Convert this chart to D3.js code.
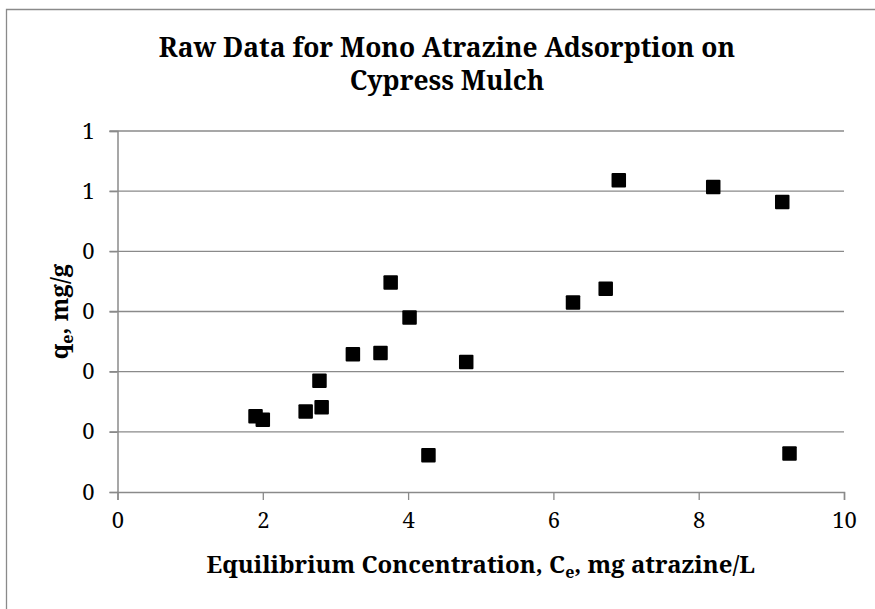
<!DOCTYPE html>
<html>
<head>
<meta charset="utf-8">
<script src="https://d3js.org/d3.v7.min.js"></script>
<style>
  body { margin: 0; background: #fff; }
  text { font-family: "Noto Serif", "Liberation Serif", serif; fill: #000; }
</style>
</head>
<body>
<script>
// concentrations (mg atrazine/L) and uptake (mg/g)
const ce = [1.90, 2.00, 2.59, 2.78, 2.81, 3.24, 3.62, 3.76, 4.02, 4.28, 4.80, 6.27, 6.72, 6.90, 8.20, 9.15, 9.25];
const qe = [0.126, 0.120, 0.134, 0.185, 0.141, 0.229, 0.231, 0.348, 0.290, 0.061, 0.216, 0.315, 0.338, 0.518, 0.507, 0.482, 0.064];

const xTicks = [0, 2, 4, 6, 8, 10];
const yTicks = [0, 0.1, 0.2, 0.3, 0.4, 0.5, 0.6];
const yTickLabels = ["0", "0", "0", "0", "0", "1", "1"]; // Excel "0" number format

const titleLines = ["Raw Data for Mono Atrazine Adsorption on", "Cypress Mulch"];

const width = 875, height = 609;
const plot = { left: 117.5, right: 844, top: 131, bottom: 492 };
const grey = "#8a8a8a";

const svg = d3.select("body").append("svg")
    .attr("width", width)
    .attr("height", height);

// chart area frame (only top/left visible in the crop)
svg.append("path")
    .attr("d", "M6.5,612 V9.5 H880")
    .attr("fill", "none")
    .attr("stroke", grey)
    .attr("stroke-width", 1.3);

const x = d3.scaleLinear().domain([0, 10]).range([plot.left, plot.right]);
const y = d3.scaleLinear().domain([0, 0.6]).range([plot.bottom, plot.top]);

// horizontal gridlines
svg.append("g")
    .selectAll("line")
    .data(yTicks.slice(1))
    .join("line")
    .attr("x1", plot.left - 8)
    .attr("x2", plot.right)
    .attr("y1", d => y(d))
    .attr("y2", d => y(d))
    .attr("stroke", grey)
    .attr("stroke-width", 1.3);

// y axis
const yAxis = svg.append("g")
    .attr("transform", `translate(${plot.left},0)`)
    .call(d3.axisLeft(y).tickValues(yTicks).tickSize(8).tickPadding(15)
        .tickFormat((d, i) => yTickLabels[i]));

// x axis
const xAxis = svg.append("g")
    .attr("transform", `translate(0,${plot.bottom})`)
    .call(d3.axisBottom(x).tickValues(xTicks).tickSize(8).tickPadding(12));

[yAxis, xAxis].forEach(g => {
  g.select(".domain").attr("stroke", grey).attr("stroke-width", 1.5);
  g.selectAll(".tick line").attr("stroke", grey).attr("stroke-width", 1.3);
  g.selectAll(".tick text")
      .style("font-family", '"Noto Serif", serif')
      .attr("font-size", 22)
      .attr("fill", "#000");
});

// data markers
const sz = 14.5;
svg.append("g")
    .selectAll("rect")
    .data(ce.map((c, i) => [c, qe[i]]))
    .join("rect")
    .attr("x", d => x(d[0]) - sz / 2)
    .attr("y", d => y(d[1]) - sz / 2)
    .attr("width", sz)
    .attr("height", sz)
    .attr("rx", 1)
    .attr("fill", "#000");

// title
svg.append("g")
    .selectAll("text")
    .data(titleLines)
    .join("text")
    .attr("x", 447)
    .attr("y", (d, i) => 57 + i * 33)
    .attr("text-anchor", "middle")
    .attr("font-weight", "bold")
    .attr("font-size", 26.4)
    .text(d => d);

// x axis title
const xt = svg.append("text")
    .attr("x", (plot.left + plot.right) / 2)
    .attr("y", 573)
    .attr("text-anchor", "middle")
    .attr("font-weight", "bold")
    .attr("font-size", 24);
xt.append("tspan").text("Equilibrium Concentration, C");
xt.append("tspan").attr("dy", 5).attr("font-size", 16).text("e");
xt.append("tspan").attr("dy", -5).text(", mg atrazine/L");

// y axis title
const yt = svg.append("text")
    .attr("transform", `translate(68,${(plot.top + plot.bottom) / 2}) rotate(-90)`)
    .attr("text-anchor", "middle")
    .attr("font-weight", "bold")
    .attr("font-size", 24);
yt.append("tspan").text("q");
yt.append("tspan").attr("dy", 5).attr("font-size", 16).text("e");
yt.append("tspan").attr("dy", -5).text(", mg/g");
</script>
</body>
</html>
